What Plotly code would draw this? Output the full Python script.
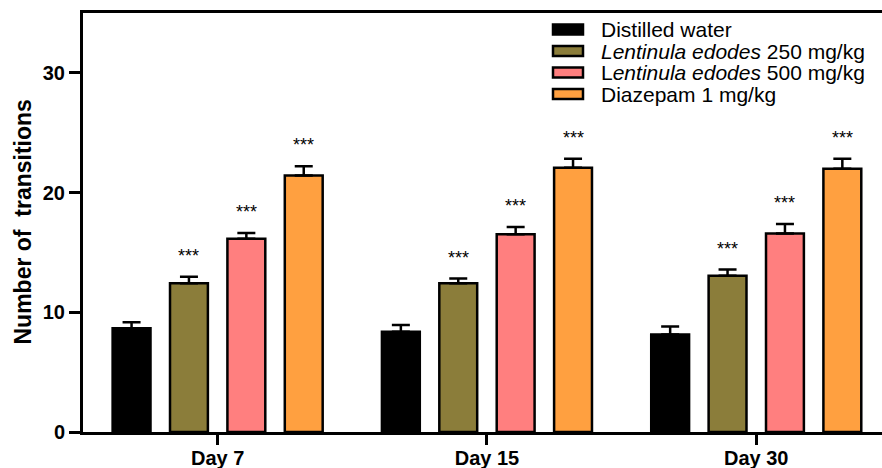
import plotly.graph_objects as go

# Elevated plus-maze style data: number of transitions per group and day
days = ["Day 7", "Day 15", "Day 30"]
groups = [
    "Distilled water",
    "<i>Lentinula edodes</i> 250 mg/kg",
    "L<i>entinula edodes</i> 500 mg/kg",
    "Diazepam 1 mg/kg",
]
water = [8.66, 8.37, 8.15]
le250 = [12.43, 12.43, 13.05]
le500 = [16.15, 16.51, 16.59]
diazepam = [21.43, 22.08, 22.00]

water_sem = [0.50, 0.56, 0.67]
le250_sem = [0.53, 0.39, 0.52]
le500_sem = [0.48, 0.62, 0.79]
diazepam_sem = [0.77, 0.75, 0.83]

# significance marks vs. distilled water ("" = none)
water_sig = ["", "", ""]
le250_sig = ["***", "***", "***"]
le500_sig = ["***", "***", "***"]
diazepam_sig = ["***", "***", "***"]

means = [water, le250, le500, diazepam]
sems = [water_sem, le250_sem, le500_sem, diazepam_sem]
sigs = [water_sig, le250_sig, le500_sig, diazepam_sig]
colors = ["#000000", "#8B7D3A", "#FF7F7F", "#FFA040"]

FONT = "Liberation Sans, Arial, sans-serif"
BARGAP = 0.1475
BARGROUPGAP = 0.34

# plot-area geometry (px)
W, H = 882, 468
ML, MR, MT, MB = 83, 0, 13, 36
plot_w = W - ML - MR
plot_h = H - MT - MB
cat_px = 269.3  # pixels per category
x_range = [-0.5, -0.5 + plot_w / cat_px]

fig = go.Figure()
for name, m, s, c in zip(groups, means, sems, colors):
    fig.add_trace(go.Bar(
        x=days, y=m, name=name,
        marker=dict(color=c, line=dict(color="black", width=2.5)),
        error_y=dict(type="data", array=s, arrayminus=[0] * len(s),
                     symmetric=False, color="black", thickness=2.5, width=9),
        showlegend=False,
    ))

# significance stars above the error caps
slot = (1 - BARGAP) / len(groups)
annotations = []
for k, (m, s, sg) in enumerate(zip(means, sems, sigs)):
    for i in range(len(days)):
        if sg[i]:
            annotations.append(dict(
                x=i + (k - (len(groups) - 1) / 2) * slot, y=m[i] + s[i],
                xref="x", yref="y", text=sg[i], showarrow=False,
                yanchor="bottom", yshift=9,
                font=dict(family=FONT, size=18, color="black"),
            ))

# custom legend: wide swatches with black outline
def px_x(px):
    return (px - ML) / plot_w

def px_y(py):
    return (MT + plot_h - py) / plot_h

shapes = []
row_y = [29.5, 51.0, 72.5, 94.0]
for name, c, ry in zip(groups, colors, row_y):
    shapes.append(dict(
        type="rect", xref="paper", yref="paper",
        x0=px_x(553), x1=px_x(583), y0=px_y(ry + 5), y1=px_y(ry - 5),
        fillcolor=c, line=dict(color="black", width=2.5), layer="above",
    ))
    annotations.append(dict(
        x=px_x(599), y=px_y(ry), xref="paper", yref="paper",
        xanchor="left", yanchor="middle", text=name, showarrow=False,
        font=dict(family=FONT, size=21, color="black"),
    ))

# y-axis title
annotations.append(dict(
    x=0, y=0.5, xref="paper", yref="paper", xshift=-61,
    text="<b>Number of  transitions</b>", textangle=-90, showarrow=False,
    xanchor="center", yanchor="middle",
    font=dict(family=FONT, size=23, color="black"),
))

fig.update_layout(
    template="none",
    width=W, height=H,
    margin=dict(l=ML, r=MR, t=MT, b=MB, pad=0, autoexpand=False),
    paper_bgcolor="white", plot_bgcolor="white",
    barmode="group", bargap=BARGAP, bargroupgap=BARGROUPGAP,
    annotations=annotations, shapes=shapes,
    xaxis=dict(
        range=x_range, showline=True, linecolor="black", linewidth=3,
        mirror=True, ticks="outside", ticklen=10, tickwidth=2.5,
        tickcolor="black", showgrid=False, zeroline=False, automargin=False,
        tickfont=dict(family=FONT, size=20, color="black", weight="bold"),
        ticklabelstandoff=-4,
    ),
    yaxis=dict(
        range=[0, 35], showline=True, linecolor="black", linewidth=3,
        ticks="outside", ticklen=11, tickwidth=2.5, tickcolor="black",
        tickvals=[0, 10, 20, 30], showgrid=False, zeroline=False,
        automargin=False,
        tickfont=dict(family=FONT, size=20, color="black", weight="bold"),
    ),
)

fig.write_html("out.html")
